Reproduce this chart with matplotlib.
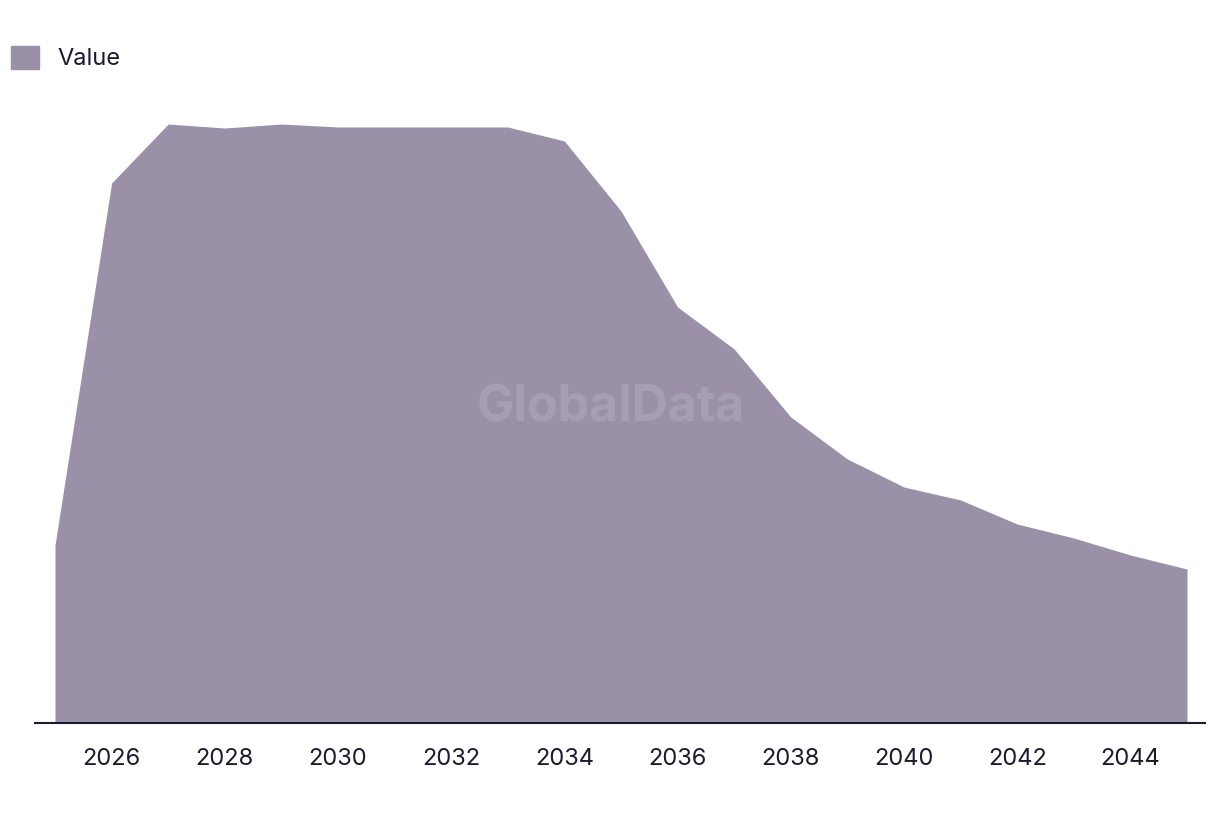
import matplotlib
matplotlib.use("Agg")
import matplotlib.pyplot as plt
from matplotlib.patches import Patch

plt.rcParams['font.family'] = ['Inter', 'DejaVu Sans']

# data (arbitrary units, no y axis shown)
years = list(range(2025, 2046))
values = [178, 540, 599, 595, 599, 596, 596, 596, 596, 582, 512,
          416, 374, 306, 264, 236, 223, 199, 185, 168, 154]
tick_years = list(range(2026, 2046, 2))

fill_col = '#9a91a9'
text_col = '#1b1a2e'

fig = plt.figure(figsize=(12.2, 8.14), dpi=100)
ax = fig.add_axes([35/1220, 91/814, 1170/1220, 623/814])

ax.fill_between(years, values, 0, color=fill_col, linewidth=0)
ax.set_xlim(2025 - 20/56.6, 2045 + 18/56.6)
ax.set_ylim(0, 623)

for s in ['top', 'right', 'left']:
    ax.spines[s].set_visible(False)
ax.spines['bottom'].set_color(text_col)
ax.spines['bottom'].set_linewidth(1.5)
ax.set_yticks([])
ax.set_xticks(tick_years)
ax.set_xticklabels([str(y) for y in tick_years], fontsize=17, color=text_col)
ax.tick_params(axis='x', length=0, pad=18)

# watermark
ax.text(0.492, 0.505, 'GlobalData', transform=ax.transAxes, ha='center', va='center',
        fontsize=36, fontweight='bold', color='white', alpha=0.12)

fig.legend(handles=[Patch(color=fill_col, label='Value')], loc='upper left',
           bbox_to_anchor=(-0.008, 0.97), frameon=False, fontsize=17,
           handlelength=1.15, handleheight=1.15, labelcolor=text_col,
           handletextpad=0.8)

fig.savefig('out.png', dpi=100)
